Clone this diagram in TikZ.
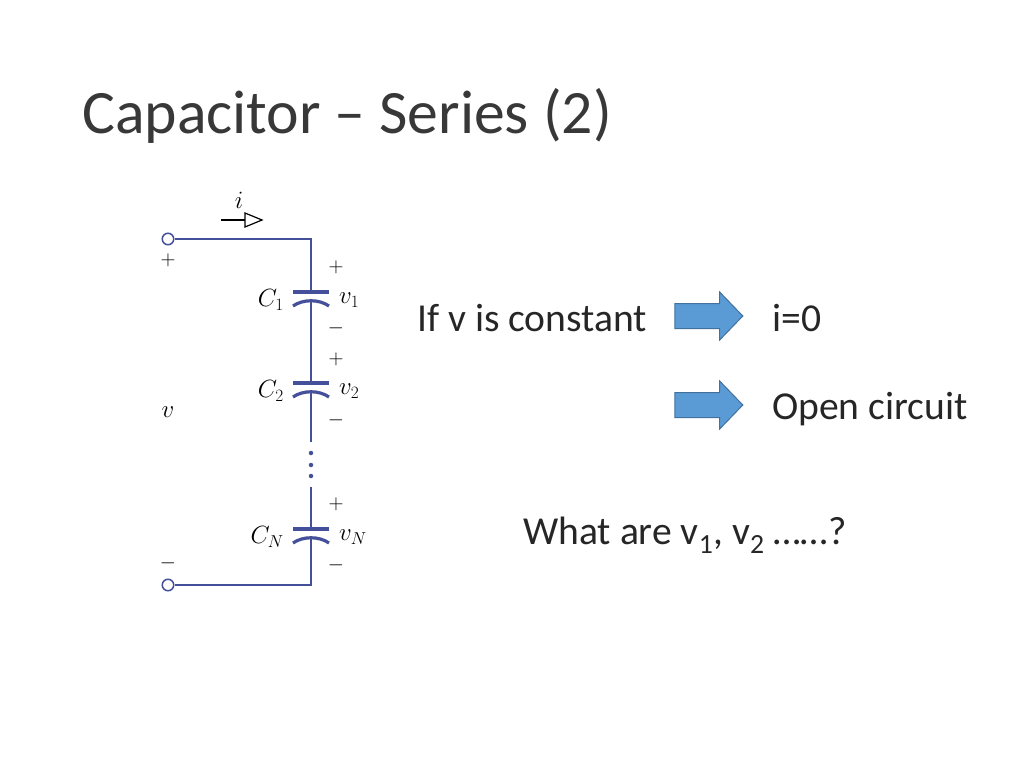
\documentclass[tikz,border=0pt]{standalone}
\usepackage{fontspec}
\setmainfont{Carlito}
\usepackage{xcolor}
\usetikzlibrary{shapes.arrows}
\definecolor{wire_blue}{HTML}{44509A}
\definecolor{arrow_fill}{HTML}{5B9BD5}
\definecolor{arrow_edge}{HTML}{41719C}
\definecolor{title_gray}{HTML}{262626}

\tikzset{
  wire/.style={wire_blue, line width=1.6pt},
  plate/.style={wire_blue, line width=3.2pt},
  terminal/.style={circle, draw=wire_blue, fill=white, line width=1.5pt, minimum size=11.5pt, inner sep=0pt},
  dot/.style={circle, fill=wire_blue, minimum size=4.5pt, inner sep=0pt},
  sign/.style={font=\fontsize{21}{21}\selectfont, text=black},
  symb/.style={font=\fontsize{26}{26}\selectfont, text=black},
  body/.style={anchor=base west, font=\fontsize{39.6}{40}\selectfont, text=title_gray, inner sep=0pt},
  blockarrow/.style={single arrow, draw=arrow_edge, fill=arrow_fill, line width=1pt, inner sep=0pt, anchor=tip,
    minimum height=68pt, single arrow head extend=11.5pt, single arrow tip angle=92}
}

\begin{document}
\begin{tikzpicture}[x=1pt, y=-1pt, >=stealth]
    \useasboundingbox (0,0) rectangle (1024,768);

    \node[anchor=base west, font=\fontsize{61.7}{62}\selectfont, text=black!78, inner sep=0pt] (title) at (82,133) {Capacitor -- Series (2)};

    % Left circuit: terminals, then the column at x=311
    \node[terminal] (top) at (168,239) {};
    \node[terminal] (bot) at (168,585) {};
    \coordinate (corner1) at (311,239);
    \coordinate (corner2) at (311,585);

    % plates of each capacitor
    \foreach \name/\ya/\lc/\lv in {one/292/$C_1$/$v_1$, two/383/$C_2$/$v_2$, last/529/$C_N$/$v_N$} {
      \coordinate (\name a) at (311,\ya);
      \coordinate (\name b) at (311,\ya+10);
      \draw[plate] (293,\ya) -- (329,\ya);
      \draw[plate] (293,\ya+14) .. controls (303,\ya+7) and (319,\ya+7) .. (329,\ya+14);
      \node[symb, anchor=east, inner sep=0pt] (\name c) at (284,\ya+8) {\lc};
      \node[symb, anchor=west, inner sep=0pt] (\name v) at (339,\ya+8) {\lv};
    }

    \coordinate (gapa) at (311,442);
    \coordinate (gapb) at (311,487);
    \draw[wire] (top) -- (corner1) -- (onea);
    \draw[wire] (oneb) -- (twoa);
    \draw[wire] (twob) -- (gapa);
    \draw[wire] (gapb) -- (lasta);
    \draw[wire] (lastb) -- (corner2) -- (bot);

    \node[dot] (d1) at (311,453) {};
    \node[dot] (d2) at (311,465) {};
    \node[dot] (d3) at (311,476) {};

    % signs
    \node[sign] (ptop) at (168,260) {$+$};
    \node[sign] (mbot) at (168,563) {$-$};
    \node[sign] (p1) at (336,267) {$+$};
    \node[sign] (m1) at (336,328) {$-$};
    \node[sign] (p2) at (336,359) {$+$};
    \node[sign] (m2) at (336,420) {$-$};
    \node[sign] (p3) at (336,504) {$+$};
    \node[sign] (m3) at (336,565) {$-$};
    \node[symb] (vlab) at (168,412) {$v$};

    % current
    \node[symb] (ilab) at (239,200) {$i$};
    \coordinate (ia) at (221,220);
    \coordinate (ib) at (245,220);
    \draw[black, line width=1.2pt] (ia) -- (ib);
    \draw[black, line width=1.2pt] (ib) -- ++(0,-7) -- ++(17,7) -- ++(-17,7) -- cycle;

    % right side
    \node[body] (cond) at (417,331) {If v is constant};
    \node[blockarrow] (arr1) at (743.5,316) {\rule{0pt}{24pt}};
    \node[body] (res1) at (772,331) {i=0};
    \node[blockarrow] (arr2) at (743.5,405) {\rule{0pt}{24pt}};
    \node[body] (res2) at (772,419) {Open circuit};
    \node[body] (ask) at (523,544) {What are v\textsubscript{1}, v\textsubscript{2} ……?};

\end{tikzpicture}
\end{document}
